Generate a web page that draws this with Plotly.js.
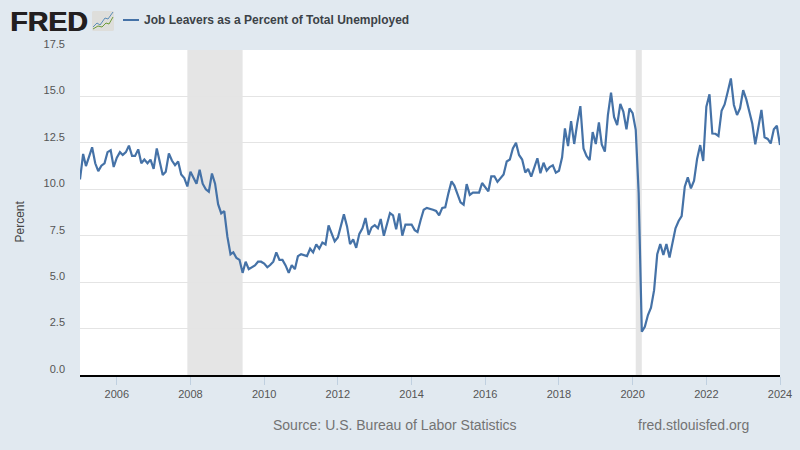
<!DOCTYPE html>
<html><head><meta charset="utf-8">
<script src="https://cdn.plot.ly/plotly-3.0.1.min.js"></script>
<style>html,body{margin:0;padding:0;background:#e1e9f0}</style></head>
<body><div id="chart" style="width:800px;height:450px"></div>
<script>
const seriesName = "Job Leavers as a Percent of Total Unemployed";
const startYear = 2005;
const jobLeavers = [
10.53,11.9,11.25,11.75,12.26,11.4,10.98,11.27,11.4,12.0,12.1,11.2,
11.7,12.0,11.85,12.0,12.35,11.8,11.8,12.15,11.4,11.6,11.4,11.6,
11.1,12.2,11.5,10.77,10.95,11.93,11.55,11.3,11.5,10.8,10.6,10.15,
10.95,10.65,10.3,11.05,10.3,10.0,9.87,10.85,10.3,9.2,8.7,8.83,
7.45,6.5,6.6,6.3,6.2,5.5,6.1,5.7,5.8,5.9,6.1,6.1,
6.0,5.8,5.92,6.1,6.6,6.2,6.2,5.9,5.5,5.92,5.7,6.4,
6.5,6.45,6.4,6.8,6.6,7.03,6.8,7.13,7.03,8.05,7.6,7.2,
7.4,8.0,8.65,8.0,7.05,7.3,6.85,7.6,7.9,8.45,7.55,7.95,
8.07,7.9,8.4,7.5,8.13,8.72,8.6,7.85,8.7,7.5,8.1,8.1,
8.1,7.8,7.7,8.35,8.9,9.0,8.93,8.9,8.83,8.6,9.0,9.03,
9.78,10.43,10.2,9.78,9.3,9.17,10.28,9.7,9.82,9.82,9.82,10.34,
10.14,9.89,10.7,10.7,10.4,10.6,10.8,11.5,11.6,12.2,12.5,11.85,
11.6,10.9,11.1,10.68,11.13,11.67,10.86,11.43,11.0,11.2,11.29,10.9,
11.0,11.72,13.28,12.33,13.67,12.44,13.55,14.48,12.2,11.8,11.57,13.08,
12.44,13.6,12.42,12.03,14.0,15.2,13.9,13.46,14.6,14.18,13.23,14.36,
14.1,13.2,9.8,2.33,2.6,3.23,3.62,4.57,6.5,7.05,6.46,7.05,
6.33,7.09,7.9,8.29,8.56,10.14,10.64,10.05,10.46,11.63,12.38,11.52,
14.45,15.11,13.0,12.99,12.87,14.23,14.57,15.25,15.97,14.54,14.0,14.36,
15.34,14.84,14.18,13.55,12.42,13.42,14.27,12.8,12.71,12.47,13.23,13.42,
12.38];
const recessionStarts = ["2007-12-01","2020-02-01"];
const recessionEnds   = ["2009-06-01","2020-04-01"];
const yTicks = [0,2.5,5,7.5,10,12.5,15,17.5];
const xTickYears = [2006,2008,2010,2012,2014,2016,2018,2020,2022,2024];

const dates = jobLeavers.map((_,i)=>{
  const y = startYear + Math.floor(i/12), m = i%12 + 1;
  return y + "-" + String(m).padStart(2,"0") + "-01";
});

// page pixels to paper coordinates, for the logo and the legend key only
const L=80,R=780,T=50,B=375;
const px=x=>(x-L)/(R-L), py=y=>(B-y)/(B-T);
const path=pts=>"M"+pts.map(p=>px(p[0])+","+py(p[1])).join("L");

const shapes = recessionStarts.map((s,i)=>({
  type:"rect",xref:"x",yref:"paper",x0:s,x1:recessionEnds[i],y0:0,y1:1,
  fillcolor:"#e5e5e5",line:{width:0},layer:"below"
}));
shapes.push({type:"line",xref:"paper",yref:"paper",x0:px(123),x1:px(139),y0:py(20),y1:py(20),line:{color:"#4572a7",width:2}});
shapes.push({type:"path",xref:"paper",yref:"paper",
  path:path([[93,11],[113,11],[114,12],[114,30],[113,31],[93,31],[92,30],[92,12]])+"Z",
  fillcolor:"#dededb",line:{width:0}});
shapes.push({type:"path",xref:"paper",yref:"paper",path:path([[93,27],[97,23],[100,25],[105,18],[108,19],[113,12]]),line:{color:"#5b8db8",width:1}});
shapes.push({type:"path",xref:"paper",yref:"paper",path:path([[93,29],[98,26],[102,27],[106,23],[109,24],[113,17]]),line:{color:"#6d9b3a",width:1}});

const annotations = [
 {text:"FRED",x:px(9),y:py(21),xanchor:"left",yanchor:"middle",font:{family:"Liberation Sans",size:28.5,weight:700,color:"#231f20",shadow:"0.8px 0 0 #231f20"}},
 {text:seriesName,x:px(143),y:py(20),xanchor:"left",yanchor:"middle",font:{family:"Liberation Sans",size:12,weight:700,color:"#3c4247"}},
 {text:"Percent",x:px(19.5),y:py(222),xanchor:"center",yanchor:"middle",textangle:-90,font:{family:"Liberation Sans",size:12,color:"#444444"}},
 {text:"Source: U.S. Bureau of Labor Statistics",x:px(271.5),y:py(425),xanchor:"left",yanchor:"middle",font:{family:"Liberation Sans",size:14,color:"#737373"}},
 {text:"fred.stlouisfed.org",x:px(636.5),y:py(425),xanchor:"left",yanchor:"middle",font:{family:"Liberation Sans",size:14,color:"#737373"}}
].map(a=>Object.assign({xref:"paper",yref:"paper",showarrow:false,borderpad:0},a));

Plotly.newPlot("chart",[{
  type:"scatter",mode:"lines",x:dates,y:jobLeavers,name:seriesName,
  line:{color:"#4572a7",width:2.2,shape:"linear"},hoverinfo:"x+y"
}],{
  width:800,height:450,
  margin:{l:L,r:800-R,t:T,b:450-B,pad:0},
  paper_bgcolor:"#e1e9f0",plot_bgcolor:"#ffffff",
  showlegend:false,
  font:{family:"Liberation Sans",size:11,color:"#555555"},
  xaxis:{type:"date",range:["2005-01-01","2024-01-01"],
    tickvals:xTickYears.map(y=>y+"-01-01"),ticktext:xTickYears.map(String),
    ticks:"outside",ticklen:8,tickcolor:"#c0d0e0",tickwidth:1,
    showgrid:false,showline:true,linecolor:"#000000",linewidth:2,zeroline:false,
    tickfont:{size:11,color:"#555555"}},
  yaxis:{range:[0,17.5],tickvals:yTicks,ticktext:yTicks.map(v=>v.toFixed(1)),
    ticks:"",
    ticklabelposition:"outside",ticklabelstandoff:14,ticklabelshift:-6,
    showgrid:true,gridcolor:"#e4e4e4",gridwidth:1,zeroline:false,showline:false,
    tickfont:{size:11,color:"#555555"}},
  shapes,annotations
},{displayModeBar:false,staticPlot:true});
</script></body></html>
